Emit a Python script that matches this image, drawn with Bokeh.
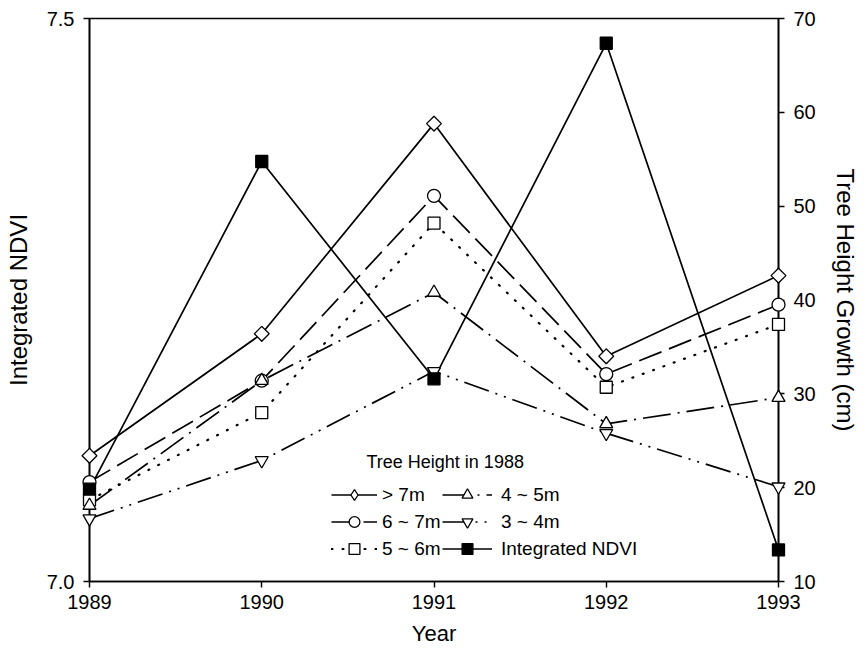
import math
from bokeh.plotting import figure
from bokeh.models import (Range1d, LinearAxis, FixedTicker, PrintfTickFormatter,
                          Legend, LegendItem, Label)
from bokeh.embed import file_html
from bokeh.resources import INLINE

# ---- data -------------------------------------------------------------
years = [1989, 1990, 1991, 1992, 1993]
h_gt7 = [23.4, 36.4, 58.8, 34.0, 42.6]     # > 7m
h_6_7 = [20.6, 31.4, 51.1, 32.1, 39.5]     # 6 ~ 7m
h_5_6 = [18.7, 28.0, 48.2, 30.7, 37.4]     # 5 ~ 6m
h_4_5 = [18.1, 31.4, 40.8, 26.8, 29.6]     # 4 ~ 5m
h_3_4 = [16.7, 22.9, 32.4, 25.8, 20.1]     # 3 ~ 4m
ndvi = [7.082, 7.373, 7.180, 7.478, 7.028]  # Integrated NDVI
ndvi_ticks = [7.0, 7.5]
cm_ticks = [10, 20, 30, 40, 50, 60, 70]
legend_title = "Tree Height in 1988"

FONT = "Liberation Sans"
TICK_FS = "20px"

p = figure(frame_width=689, frame_height=563, output_backend="svg",
           toolbar_location=None,
           x_range=Range1d(1989, 1993), y_range=Range1d(7.0, 7.5),
           min_border_left=89, min_border_right=75, min_border_top=18,
           min_border_bottom=70)
p.extra_y_ranges = {"cm": Range1d(10, 70)}
p.outline_line_color = "black"
p.outline_line_width = 1.6
p.xgrid.visible = False
p.ygrid.visible = False


def style_axis(ax, lab_fs):
    ax.axis_line_width = 1.6
    ax.axis_line_color = "black"
    ax.major_tick_line_width = 1.4
    ax.major_tick_line_color = "black"
    ax.major_tick_in = 0
    ax.major_tick_out = 6
    ax.minor_tick_line_color = None
    ax.major_label_text_font = FONT
    ax.major_label_text_font_size = TICK_FS
    ax.major_label_text_color = "black"
    ax.axis_label_text_font = FONT
    ax.axis_label_text_font_size = lab_fs
    ax.axis_label_text_font_style = "normal"
    ax.axis_label_text_color = "black"


xa = p.xaxis[0]
xa.ticker = FixedTicker(ticks=years)
xa.axis_label = "Year"
style_axis(xa, "22px")
xa.major_label_standoff = 7
xa.axis_label_standoff = 9

ya = p.yaxis[0]
ya.ticker = FixedTicker(ticks=ndvi_ticks)
ya.formatter = PrintfTickFormatter(format="%.1f")
ya.axis_label = "Integrated NDVI"
style_axis(ya, "24px")
ya.major_label_standoff = 9
ya.axis_label_standoff = 12

ra = LinearAxis(y_range_name="cm", ticker=FixedTicker(ticks=cm_ticks),
                axis_label="Tree Height Growth (cm)")
style_axis(ra, "24px")
ra.major_label_standoff = 9
ra.axis_label_standoff = 13
p.add_layout(ra, "right")

LW = 1.7
MLW = 1.3

l1 = p.line(years, h_gt7, y_range_name="cm", line_color="black", line_width=LW)
# diamond swatch used by the legend; sits hidden under the rotated squares
k1 = p.scatter(years, h_gt7, y_range_name="cm", marker="diamond", size=14.5,
               fill_color="white", line_color="black", line_width=MLW)
m1 = p.scatter(years, h_gt7, y_range_name="cm", marker="square", size=10.5,
               angle=math.pi / 4,
               fill_color="white", line_color="black", line_width=MLW)

l2 = p.line(years, h_6_7, y_range_name="cm", line_color="black", line_width=LW,
            line_dash="24 8")
m2 = p.scatter(years, h_6_7, y_range_name="cm", marker="circle", size=13,
               fill_color="white", line_color="black", line_width=MLW)

l3 = p.line(years, h_5_6, y_range_name="cm", line_color="black", line_width=2.2,
            line_dash="1 10", line_cap="round")
m3 = p.scatter(years, h_5_6, y_range_name="cm", marker="square", size=12,
               fill_color="white", line_color="black", line_width=MLW)

l4 = p.line(years, h_4_5, y_range_name="cm", line_color="black", line_width=LW,
            line_dash="28 7 2 7")
m4 = p.scatter(years, h_4_5, y_range_name="cm", marker="triangle", size=13,
               fill_color="white", line_color="black", line_width=MLW)

l5 = p.line(years, h_3_4, y_range_name="cm", line_color="black", line_width=LW,
            line_dash="26 7 2 7 2 7")
m5 = p.scatter(years, h_3_4, y_range_name="cm", marker="inverted_triangle", size=13,
               fill_color="white", line_color="black", line_width=MLW)

l6 = p.line(years, ndvi, line_color="black", line_width=LW)
m6 = p.scatter(years, ndvi, marker="square", size=12,
               fill_color="black", line_color="black", line_width=MLW)

for r in (k1, m1, m2, m3, m4, m5, m6):
    r.level = "overlay"


def make_legend(items, loc, gw, so):
    lg = Legend(items=items, location=loc, orientation="vertical")
    lg.background_fill_alpha = 0
    lg.border_line_color = None
    lg.padding = 0
    lg.margin = 0
    lg.spacing = 0
    lg.label_height = 27
    lg.glyph_height = 27
    lg.glyph_width = gw
    lg.label_standoff = so
    lg.label_text_font = FONT
    lg.label_text_font_size = "19px"
    lg.label_text_color = "black"
    return lg


leg1 = make_legend([LegendItem(label="> 7m", renderers=[l1, k1]),
                    LegendItem(label="6 ~ 7m", renderers=[l2, m2]),
                    LegendItem(label="5 ~ 6m", renderers=[l3, m3])],
                   (242, 19), 46, 5)
leg2 = make_legend([LegendItem(label="4 ~ 5m", renderers=[l4, m4]),
                    LegendItem(label="3 ~ 4m", renderers=[l5, m5]),
                    LegendItem(label="Integrated NDVI", renderers=[l6, m6])],
                   (353, 19), 50, 9)
p.add_layout(leg1)
p.add_layout(leg2)

title = Label(x=1990.608, y=7.1057, text=legend_title, text_baseline="middle",
              text_align="left", text_font=FONT, text_font_size="18px",
              text_color="black")
p.add_layout(title)

open("out.html", "w").write(file_html(p, INLINE))
